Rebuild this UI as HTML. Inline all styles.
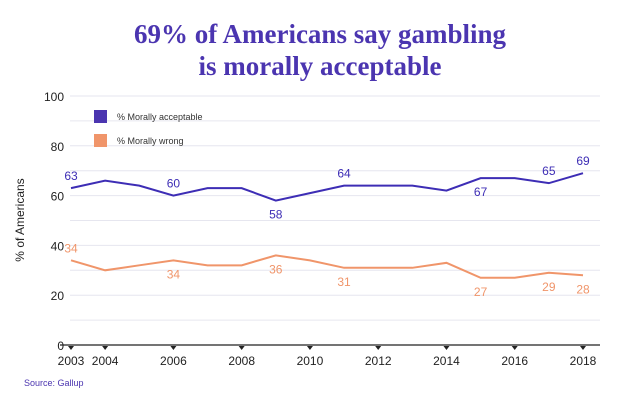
<!DOCTYPE html>
<html><head><meta charset="utf-8"><style>
body{margin:0;background:#fff;width:640px;height:400px;overflow:hidden;font-family:"Liberation Sans",sans-serif}
</style></head><body>
<svg width="640" height="400">
<text x="320" y="43" text-anchor="middle" font-family="Liberation Serif" font-weight="bold" font-size="27" fill="#4b35b0">69% of Americans say gambling</text>
<text x="320" y="75" text-anchor="middle" font-family="Liberation Serif" font-weight="bold" font-size="27" fill="#4b35b0">is morally acceptable</text>
<text transform="translate(24,220) rotate(-90)" text-anchor="middle" font-size="12" fill="#222">% of Americans</text>
<text x="24" y="386" font-size="9" fill="#4b35b0">Source: Gallup</text>
<g id="grid"></g><g id="marks"></g>
<rect x="94" y="110" width="13" height="13" fill="#4b35b0"/>
<text x="117" y="120" font-size="9" fill="#333">% Morally acceptable</text>
<rect x="94" y="134" width="13" height="13" fill="#f0956a"/>
<text x="117" y="144" font-size="9" fill="#333">% Morally wrong</text>
</svg>
<script>
const years=[2003,2004,2005,2006,2007,2008,2009,2010,2011,2012,2013,2014,2015,2016,2017,2018];
const acceptable=[63,66,64,60,63,63,58,61,64,64,64,62,67,67,65,69];
const wrong=[34,30,32,34,32,32,36,34,31,31,31,33,27,27,29,28];
const xTicks=[2003,2004,2006,2008,2010,2012,2014,2016,2018];
const yTicks=[0,20,40,60,80,100];
const accLabelYears=[2003,2006,2009,2011,2015,2017,2018];
const accLabelAbove=[true,true,false,true,false,true,true];
const wrongLabelYears=[2003,2006,2009,2011,2015,2017,2018];
const wrongLabelAbove=[true,false,false,false,false,false,false];
const NS="http://www.w3.org/2000/svg";
const X=y=>71+(y-2003)*(583-71)/15;
const Y=v=>345-v*2.49;
function mk(tag,attrs,parent){const e=document.createElementNS(NS,tag);for(const k in attrs)e.setAttribute(k,attrs[k]);parent.appendChild(e);return e;}
const grid=document.getElementById('grid'),marks=document.getElementById('marks');
for(let v=10;v<=100;v+=10){
 const l=mk('line',{x1:70,x2:600,y1:Y(v),y2:Y(v),stroke:'#e6e6ef','stroke-width':1},grid);
 
 
}
yTicks.forEach(v=>{const t=mk('text',{x:64,y:Y(v)+5,'text-anchor':'end','font-size':12,fill:'#222'},grid);t.textContent=v;
 
 });
const ax=mk('line',{x1:60,x2:600,y1:Y(0),y2:Y(0),stroke:'#222','stroke-width':1.2},grid);


xTicks.forEach(yr=>{const p=mk('path',{d:`M${X(yr)-3},${Y(0)+1}L${X(yr)+3},${Y(0)+1}L${X(yr)},${Y(0)+5}Z`,fill:'#222'},grid);
 
 
 const t=mk('text',{x:X(yr),y:Y(0)+20,'text-anchor':'middle','font-size':12,fill:'#222'},grid);t.textContent=yr;
 
 });
function series(vals,color,name,lblYears,lblAbove){
 const d=vals.map((v,i)=>(i?'L':'M')+X(years[i])+','+Y(v)).join('');
 const p=mk('path',{d:d,fill:'none',stroke:color,'stroke-width':2},marks);
 
 
 lblYears.forEach((yr,j)=>{const i=years.indexOf(yr);
  const t=mk('text',{x:X(yr),y:Y(vals[i])+(lblAbove[j]?-8:18),'text-anchor':'middle','font-size':12,fill:color},marks);
  t.textContent=vals[i];
  
  });
}
series(acceptable,'#3d2db5','acceptable',accLabelYears,accLabelAbove);
series(wrong,'#f0956a','wrong',wrongLabelYears,wrongLabelAbove);
</script>
</body></html>
